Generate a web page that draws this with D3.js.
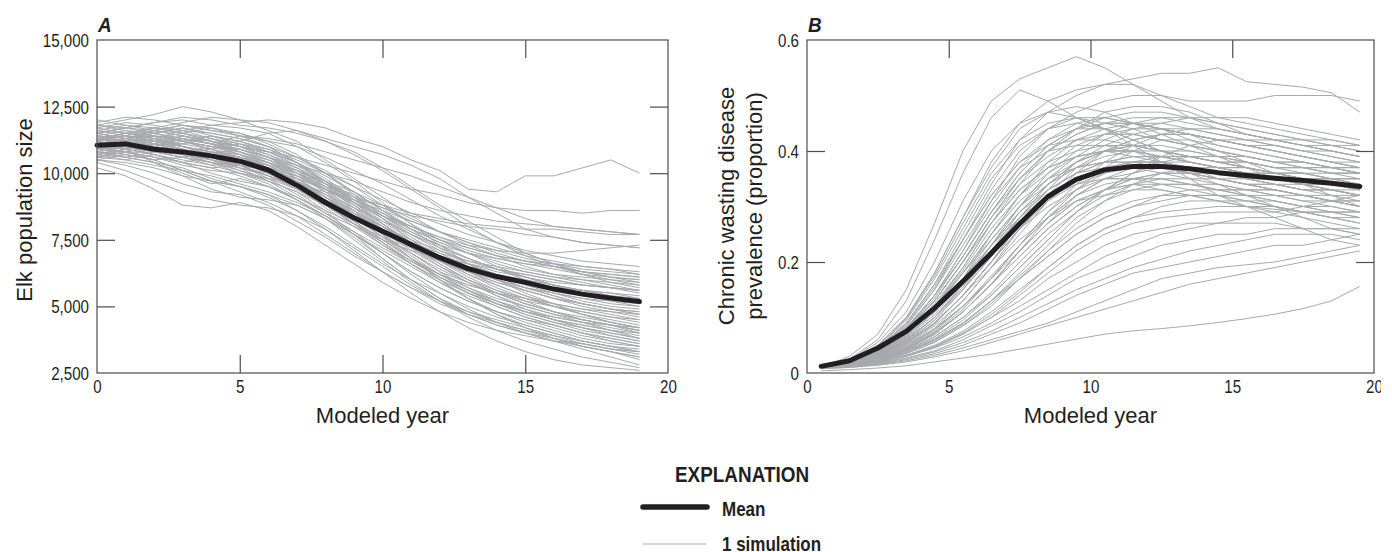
<!DOCTYPE html>
<html><head><meta charset="utf-8">
<script src="https://cdn.jsdelivr.net/npm/d3@7/dist/d3.min.js"></script>
<style>
body{margin:0;background:#fff;}
svg{display:block;}
.tick-lbl{font-family:"Liberation Sans",Arial,sans-serif;font-size:18px;fill:#231f20;}
.title{font-family:"Liberation Sans",Arial,sans-serif;font-size:22px;fill:#231f20;}
.panel{font-family:"Liberation Sans",Arial,sans-serif;font-size:21px;font-weight:bold;font-style:italic;fill:#231f20;}
.leg{font-family:"Liberation Sans",Arial,sans-serif;font-weight:bold;fill:#231f20;}
</style></head>
<body>
<script>
// ---------- DATA ----------
const elkYears = d3.range(0, 20);           // modeled years 0..19
const cwdYears = d3.range(0.5, 20, 1);      // modeled years 0.5..19.5
const elkXTicks = [0, 5, 10, 15, 20];
const elkYTicks = [2500, 5000, 7500, 10000, 12500, 15000];
const cwdXTicks = [0, 5, 10, 15, 20];
const cwdYTicks = [0, 0.2, 0.4, 0.6];
const cwdYTickLabels = ["0", "0.2", "0.4", "0.6"];

// Mean elk population size
const elkMean = [11050,11100,10900,10800,10650,10450,10120,9550,8900,8330,7820,7320,6830,6420,6120,5900,5650,5460,5310,5180];
// Simulated elk population size (hundreds of elk)
const elkSims = [
[112,114,113,116,115,113,110,104,96,88,80,72,66,60,55,51,48,45,43,41],
[108,110,107,104,106,103,99,95,88,83,76,70,63,59,54,50,47,44,41,38],
[115,117,119,121,120,118,117,115,112,108,102,95,88,82,76,70,66,62,59,57],
[110,108,105,101,97,95,91,86,80,73,66,60,55,50,46,43,40,37,35,33],
[113,112,116,118,117,114,112,110,106,101,96,90,84,79,74,70,66,63,61,59],
[105,103,100,96,93,92,88,82,76,69,63,57,52,48,45,42,39,36,34,32],
[118,120,122,125,123,120,116,112,105,98,91,84,78,73,69,65,62,60,58,56],
[111,113,115,112,110,112,115,116,113,110,107,103,98,91,85,79,76,74,73,72],
[107,106,104,100,96,98,95,90,84,77,70,63,57,52,48,45,43,40,37,35],
[113,115,117,116,118,119,120,119,117,113,110,105,101,94,93,99,99,102,105,100],
[109,111,110,108,106,103,98,92,85,78,70,62,55,49,44,41,38,35,33,30],
[116,118,117,119,121,120,119,116,112,107,101,94,87,80,74,69,65,62,60,58],
[104,101,97,93,90,88,87,84,79,72,65,58,52,47,44,41,39,37,35,34],
[112,110,109,111,113,111,107,102,95,87,79,72,67,63,61,59,57,56,55,53],
[110,112,114,110,107,109,106,101,96,91,88,85,83,81,80,79,79,78,77,77],
[106,109,112,109,105,101,97,93,86,77,68,60,53,48,44,40,37,34,31,28],
[115,113,111,114,112,110,108,106,103,100,97,94,92,89,87,86,86,85,86,86],
[111,110,108,106,108,106,102,95,87,80,73,67,62,58,55,53,51,49,48,47],
[120,118,116,115,117,115,111,106,100,93,86,80,75,71,68,66,64,62,61,60],
[108,107,109,107,104,100,96,90,83,75,67,59,52,46,41,37,34,31,29,27],
[113,114,112,109,106,102,97,91,85,80,75,71,68,66,63,61,59,58,57,55],
[110,113,116,118,116,114,110,104,97,89,81,73,66,60,55,51,48,45,43,40],
[102,99,94,88,87,89,86,80,73,66,59,53,48,44,41,39,37,36,34,33],
[114,116,115,113,111,114,113,111,108,105,102,99,95,91,87,83,80,79,78,77],
[109,108,106,103,101,100,98,96,93,90,86,82,78,75,72,69,67,65,64,62],
[117,119,118,116,113,110,106,100,93,85,77,69,62,56,51,47,44,42,40,38],
[107,109,111,108,110,107,103,97,90,82,75,68,62,58,55,52,50,48,46,44],
[112,110,113,115,112,108,104,99,94,89,84,80,76,73,71,70,70,71,72,73],
[111,109,104,99,94,91,90,88,83,76,68,60,53,47,43,40,37,35,33,31],
[115,117,119,120,118,117,115,110,104,97,89,81,73,66,60,55,51,47,44,42],
[106,108,106,104,102,103,101,97,91,85,79,74,70,67,65,63,61,60,59,58],
[113,111,114,112,110,109,106,101,94,86,77,68,60,53,47,42,38,35,33,31],
[110,112,110,107,104,102,100,97,92,87,82,77,73,70,68,66,65,63,62,61],
[119,121,120,118,116,115,112,107,100,92,84,77,71,66,62,58,55,52,50,49],
[108,106,104,102,98,95,92,86,79,71,63,55,48,42,37,33,30,28,27,26],
[114,112,110,108,109,111,109,104,97,89,81,74,69,64,60,57,54,51,49,47],
[111,113,114,113,111,108,104,98,91,84,78,73,69,65,62,60,58,56,54,52],
[109,111,113,111,114,112,108,103,97,90,83,76,70,65,60,56,53,50,48,46],
[116,114,112,110,107,106,104,100,95,88,81,74,68,63,59,56,53,51,49,48],
[105,107,105,101,97,93,89,84,77,70,63,57,51,47,43,40,38,36,34,33],
[112,114,117,115,113,110,106,103,100,97,93,89,86,84,82,81,80,79,78,77],
[110,108,110,112,109,105,101,96,91,86,80,74,68,63,58,54,50,47,44,42],
[113,115,113,110,108,106,103,97,89,81,73,66,60,55,51,48,46,44,43,42],
[107,105,107,104,100,97,95,91,86,81,76,72,69,66,64,62,60,58,57,56],
[115,113,115,117,115,113,110,106,101,95,88,81,75,70,65,61,58,55,53,51],
[111,112,110,108,105,103,101,98,94,89,84,79,75,72,69,67,66,65,64,63],
[118,116,114,112,110,108,104,98,91,84,77,70,64,59,55,51,48,46,44,42],
[109,110,112,114,111,108,105,101,96,90,84,78,73,68,64,60,57,54,52,50],
[112,109,107,105,103,104,102,99,95,91,87,84,82,80,79,77,76,74,73,72],
[106,108,110,113,111,107,102,96,89,82,74,66,59,53,48,44,41,38,36,35],
[110,111,113,110,108,105,100,94,88,81,74,67,61,56,52,49,46,44,42,40],
[114,112,110,113,111,109,106,102,97,91,85,79,74,70,67,64,62,61,60,59],
[108,110,108,106,103,100,97,93,88,82,75,68,61,55,50,46,43,40,38,36],
[112,115,114,112,114,112,109,105,100,95,90,85,81,77,74,71,69,67,66,65],
[116,115,117,115,112,110,108,104,98,91,83,75,68,62,57,53,50,47,45,43],
[109,107,105,106,104,101,98,94,88,81,74,67,61,56,52,48,45,43,41,39],
[113,114,112,110,107,104,100,95,90,84,78,72,67,63,60,57,55,53,51,50],
[111,113,115,117,114,111,108,104,99,93,86,79,72,66,61,57,54,51,49,47],
[107,109,107,104,102,99,95,90,84,77,70,63,57,52,48,45,42,39,37,35],
[115,117,116,114,112,110,107,103,97,91,85,79,74,70,66,63,61,59,57,56],
[110,109,111,109,106,104,102,99,94,88,81,74,68,63,59,56,53,51,49,48],
[112,110,108,107,105,102,99,95,90,84,77,70,63,57,52,48,45,42,40,38],
[118,117,115,113,111,109,106,102,96,89,82,75,69,64,60,57,55,53,52,51],
[106,105,103,101,99,96,93,89,84,78,72,66,60,55,51,48,45,43,41,40],
[113,111,109,108,106,105,103,100,96,92,87,82,78,74,71,68,66,64,63,62],
[109,112,114,112,109,106,102,97,91,84,76,68,60,53,47,43,40,37,35,33],
[111,110,112,110,108,107,104,100,95,89,83,77,72,68,64,61,58,56,54,53],
[114,113,111,109,107,104,100,95,89,82,75,68,62,57,53,50,47,45,43,41],
[108,106,108,106,104,103,101,98,94,90,85,80,76,72,69,67,65,63,62,61],
[112,114,116,114,112,109,105,100,94,88,81,74,67,61,56,52,48,45,43,41],
[110,112,110,107,105,103,99,94,88,81,74,67,61,56,51,47,44,41,39,37],
[117,115,113,112,110,108,105,101,96,90,84,78,73,68,64,61,58,56,55,54],
[105,104,102,99,97,95,92,88,83,77,71,65,59,54,50,46,43,40,38,36],
[111,109,111,113,111,108,104,99,93,87,80,73,67,62,58,54,51,49,47,45],
[113,112,110,108,106,104,101,97,92,86,79,72,65,59,54,49,45,42,39,37],
[109,111,112,111,109,107,104,101,97,93,88,83,78,74,70,67,65,63,61,60],
[115,113,112,110,108,106,103,98,92,85,78,71,65,60,56,53,50,48,46,45],
[107,109,110,108,106,103,99,95,90,85,80,75,71,67,64,62,60,58,57,56]
];

// Mean CWD prevalence
const cwdMean = [0.012,0.022,0.045,0.075,0.117,0.165,0.216,0.269,0.318,0.349,0.366,0.372,0.372,0.368,0.361,0.356,0.351,0.347,0.342,0.336];
// Simulated CWD prevalence (percent)
const cwdSims = [
[0.4,0.6,0.9,1.3,2.0,2.7,3.4,4.3,5.2,6.1,7.0,7.6,8.0,8.5,9.1,9.8,10.6,11.6,13.0,15.6],
[1,3,7,15,27,40,49,53,55,57,55,52,49,46,44,43,42,41,40,39],
[1,2.5,6,13,24,36,46,51,49,46,44,42,40,39,38,37,36,35,34,33],
[1,2,5,10,18,28,38,45,49,51,52,52,50,48,46,45,44,43,42,41],
[1,2,4.5,9,16,25,34,42,47,50,52,53,54,54,55,52.5,52,51.5,50.5,47],
[1,2,4,8,14,22,31,39,44,47,49,50,50,49,49,49,50,50,50,49],
[1,2,4,8,14,21,29,36,41,44,46,47,47,46,45,44,43,42,41,40],
[1,1.8,3.5,7,12,19,27,34,40,44,47,48,48,47,45,43,42,41,40,39],
[1,2,4,8,13,20,28,35,40,43,45,46,46,45,44,43,42,42,41,41],
[1,1.8,3.5,6.5,11,17,25,32,38,42,44,45,45,44,43,42,41,40,39,38],
[1,2,4.5,9,16,24,32,38,42,44,44,43,42,41,40,39,38,37,36,36],
[1,1.7,3,6,10,16,23,30,36,40,43,45,46,46,45,44,43,42,42,41],
[1,1.8,3.5,7,12,18,25,32,37,41,43,44,44,43,42,41,40,39,38,37],
[1,1.6,3,5.5,9,14,20,27,33,38,41,43,44,44,43,42,41,40,39,38],
[1,2,4,7.5,13,20,27,33,37,39,40,40,39,38,37,36,35,34,33,32],
[1,1.6,2.8,5,8.5,13,19,25,31,36,40,42,43,43,42,41,40,39,38,37],
[1,1.8,3.3,6,10,15,21,27,32,35,37,38,38,37,36,35,34,33,33,32],
[1,1.5,2.6,4.5,7.5,12,17,23,29,34,38,41,43,44,44,43,42,41,40,39],
[1,2,3.8,7,12,18,24,30,34,37,38,38,37,36,35,34,33,32,31,30],
[1,1.5,2.5,4.2,7,11,16,22,27,32,35,37,38,38,37,36,36,35,35,34],
[1,1.7,3,5.5,9,14,20,26,31,34,36,37,37,36,36,35,35,34,34,33],
[1,1.4,2.3,4,6.5,10,14,19,24,29,33,36,38,39,39,39,38,38,37,37],
[1,1.8,3.5,6.5,11,17,23,28,32,34,35,35,34,33,32,31,30,29,28,27],
[1,1.5,2.6,4.6,8,12,17,22,27,31,33,34,34,34,33,33,32,32,31,31],
[1,1.3,2.1,3.5,5.5,8.5,12,17,22,27,31,34,36,37,37,37,36,36,36,35],
[1,1.6,3,5.5,9,14,19,24,28,31,32,33,33,32,31,30,30,29,29,28],
[1,1.4,2.2,3.8,6,9,13,17,21,25,28,30,31,32,32,32,32,31,31,30],
[1,1.3,2,3.2,5,7.5,11,15,19,23,26,28,30,31,31,31,31,30,30,29],
[1,1.2,1.9,3,4.5,6.5,9,12,15,18,21,23,25,26,27,28,28,29,29,29],
[1,1.3,2,3.2,4.8,7,10,13,17,20,23,25,26,27,27,27,27,26,26,26],
[1,1.2,1.8,2.7,4,6,8.5,11,14,17,19,21,23,24,25,25,26,26,26,25],
[1,1.1,1.6,2.4,3.5,5,7,9,11.5,14,16,18,19,20,21,22,23,23,24,25],
[1,1.2,1.7,2.6,3.8,5.5,7.5,10,12.5,15,17,19,20.5,22,23,24,25,25,25,24],
[0.8,1,1.4,2,2.9,4,5.5,7,8.5,10,11.5,13,14.5,16,17,18,19,20,21,22],
[0.8,1,1.5,2.2,3.2,4.5,6,7.5,9,11,13,15,17,18,19,19.5,20,21,22,23],
[1,2.2,5,10,18,28,37,44,47,48,47,45,43,41,39,37,35,34,32,30],
[1,2,4.2,8.5,15,23,31,37,40,41,41,40,38,36,34,32,30,28,26,25],
[1,2.3,5.5,11,20,31,40,45,47,46,44,41,38,35,32,30,28,26,24,23],
[1,1.9,4,8,14,22,30,37,42,45,46,45,44,42,40,38,36,35,34,33],
[1,1.7,3.2,6,10,16,23,30,35,39,42,44,45,46,46,46,45,44,43,42],
[1,1.9,3.8,7.5,13,20,28,35,40,43,45,45,44,43,41,40,39,38,37,36],
[1,1.5,2.7,5,8,13,19,26,32,37,40,42,43,43,42,41,41,40,40,39],
[1,1.6,2.9,5.2,8.8,14,20,27,32,35,37,37,36,35,34,33,32,31,30,29],
[1,2.1,4.6,9.5,17,26,35,41,44,46,46,45,44,43,42,41,40,39,38,37],
[1,1.4,2.4,4.2,7,11,16,21,26,30,33,35,36,36,35,34,33,32,31,30],
[1,1.8,3.6,6.8,11.5,18,25,31,35,37,38,38,38,37,36,36,35,35,34,34],
[1,2,4.3,8.5,15,24,33,40,44,45,44,42,40,38,37,36,36,35,35,35],
[1,1.7,3.1,5.8,9.5,15,21,28,34,38,40,41,41,40,39,38,37,36,35,34],
[1,1.5,2.5,4.4,7.2,11,16,22,28,33,37,40,42,42,41,40,39,38,37,36],
[1,1.3,2.2,3.7,5.8,8.8,13,18,23,28,31,33,34,34,34,33,33,32,31,31],
[1,1.2,1.9,3,4.6,7,10,14,18,22,25,27,28,28.5,29,29,29,30,31,32],
[1,1.4,2.3,3.9,6.2,9.5,14,19,24,29,33,36,39,41,42,42,42,41,41,40],
[1,1.9,3.9,7.6,13,20,28,34,38,40,41,41,40,39,38,37,36,35,34,33],
[1,1.6,3,5.6,9.5,15,22,29,34,38,40,41,40,39,38,37,36,35,35,34],
[1,1.4,2.4,4.3,7,11,16,21,26,30,33,35,36,36,36,35,35,34,34,33],
[1,2.1,4.4,8.8,15.5,24,32,38,41,42,42,41,40,39,38,37,36,36,35,35],
[1,1.7,3.2,6,10,15.5,22,28,33,36,38,39,39,38,37,36,35,34,33,32],
[1,1.5,2.7,4.8,8,12,17,23,28,32,35,36,37,36,35,35,34,34,33,33],
[1,1.8,3.5,6.6,11,17,24,30,35,38,40,40,39,38,37,36,35,34,33,32],
[1,1.3,2.1,3.5,5.6,8.5,12.5,17,21,25,28,30,32,33,33,33,33,32,32,32],
[1,2,4.2,8.2,14,21,29,35,39,42,43,43,42,41,40,39,38,37,37,36],
[1,1.6,2.9,5.3,9,14,20,26,31,35,37,38,38,37,36,35,34,33,32,31],
[1,1.5,2.6,4.6,7.8,12,17.5,23,28,32,34,35,35,34,33,32,31,30,29,28],
[1,1.8,3.6,7,12,18.5,26,32,36,39,40,40,39,38,37,37,36,36,35,35],
[1,1.2,1.9,3.1,4.8,7.2,10.5,14.5,19,23,26,28,29,29.5,30,30,29.5,29,28,28],
[1,1.7,3.3,6.2,10.5,16.5,23,29,34,37,39,40,40,40,39,38,37,37,36,36],
[1,1.9,3.8,7.3,12.5,19,27,33,37,39,40,39,38,37,35,34,33,32,31,30],
[1,1.4,2.3,4,6.6,10,14.5,20,25,29,32,34,35,35,35,34,34,33,33,32],
[1,2.2,4.8,9.8,17.5,27,36,42,45,46,45,44,42,41,40,39,38,38,37,37],
[1,1.6,3,5.4,9,14,20,26,30,33,35,35,35,34,33,32,31,30,29,29],
[1,1.3,2.2,3.7,6,9,13,17.5,22,26,29,31,32,32,32,31,30,29,28,27],
[1,1.8,3.4,6.4,11,17,23,29,33,36,37,37,37,36,35,34,34,33,33,32],
[1,1.5,2.5,4.4,7.3,11.5,17,23,29,33,36,38,39,39,38,38,37,37,36,36],
[1,2,4.1,8,13.5,21,29,36,41,44,45,45,44,43,42,41,40,39,38,38],
[1,1.4,2.4,4.2,7,11,16,22,27,31,33,34,33,32,31,30,29,28,27,26],
[1,1.7,3.1,5.9,10,15.5,22,28,33,36,38,39,39,39,38,38,37,37,37,36]
];

const legendTitle = "EXPLANATION";
const legendLabels = ["Mean", "1 simulation"];

// ---------- DRAW ----------
const W = 1392, H = 552;
const svg = d3.select("body").append("svg").attr("width", W).attr("height", H);
const INK = "#231f20", GREY = "#a7a9ac", AXIS = "#4d4d4f";
const TL = 18;        // inward tick length
const NARROW = 0.84;  // horizontal squeeze that imitates the condensed face

function condense(sel, s) {
  sel.each(function() {
    const t = d3.select(this);
    const x = +t.attr("x") || 0, y = +t.attr("y") || 0;
    t.attr("x", 0).attr("y", 0).attr("transform", `translate(${x},${y}) scale(${s},1)`);
  });
}

function panel(opts) {
  const {x0, x1, y0, y1, xDomain, yDomain, xTicks, yTicks, yFmt, sims, simScale, xs, mean, letter, clipRight} = opts;
  const x = d3.scaleLinear().domain(xDomain).range([x0, x1]);
  const y = d3.scaleLinear().domain(yDomain).range([y1, y0]);
  const g = svg.append("g");

  const line = d3.line().x((d, i) => x(xs[i])).y(d => y(d));
  g.append("g").selectAll("path").data(sims).join("path")
    .attr("d", s => line(s.map(v => v * simScale)))
    .attr("fill", "none").attr("stroke", GREY).attr("stroke-width", 1)
    .attr("stroke-linejoin", "round");
  g.append("path").attr("d", line(mean)).attr("fill", "none")
    .attr("stroke", INK).attr("stroke-width", 5).attr("stroke-linecap", "round").attr("stroke-linejoin", "round");

  g.append("rect").attr("x", x0).attr("y", y0).attr("width", x1 - x0).attr("height", y1 - y0)
    .attr("fill", "none").attr("stroke", AXIS).attr("stroke-width", 1.2);

  const inner = t => t > xDomain[0] && t < xDomain[1];
  const innerY = t => t > yDomain[0] && t < yDomain[1];
  const bottom = d3.axisBottom(x).tickValues(xTicks).tickSize(-TL).tickPadding(7).tickFormat(d3.format("d"));
  const gb = g.append("g").attr("transform", `translate(0,${y1})`).call(bottom);
  const top = d3.axisTop(x).tickValues(xTicks.filter(inner)).tickSize(-TL).tickFormat("");
  const gt = g.append("g").attr("transform", `translate(0,${y0})`).call(top);
  const left = d3.axisLeft(y).tickValues(yTicks).tickSize(-TL).tickPadding(8).tickFormat(yFmt);
  const gl = g.append("g").attr("transform", `translate(${x0},0)`).call(left);
  const right = d3.axisRight(y).tickValues(yTicks.filter(innerY)).tickSize(-TL).tickFormat("");
  const gr = g.append("g").attr("transform", `translate(${x1},0)`).call(right);
  [gb, gt, gl, gr].forEach(a => {
    a.attr("font-size", null).attr("font-family", null);
    a.select(".domain").remove();
    a.selectAll(".tick line").attr("stroke", AXIS).attr("stroke-width", 1.2);
    a.selectAll("text").attr("class", "tick-lbl").attr("fill", INK);
  });
  gb.selectAll(".tick").filter(d => !inner(d)).select("line").remove();
  gl.selectAll(".tick").filter(d => !innerY(d)).select("line").remove();
  gl.selectAll("text").attr("dy", "0.36em");
  gb.selectAll("text").attr("dy", "0.72em");
  condense(gl.selectAll("text"), NARROW);
  condense(gb.selectAll("text"), NARROW);
  if (clipRight) {
    svg.append("clipPath").attr("id", "clipB").append("rect").attr("x", 0).attr("y", 0).attr("width", clipRight).attr("height", H);
    gb.attr("clip-path", "url(#clipB)");
  }

  const pl = g.append("text").attr("class", "panel").attr("x", x0 + 1).attr("y", 32).text(letter);
  condense(pl, 0.9);
  g.append("text").attr("class", "title").attr("x", (x0 + x1) / 2).attr("y", 423)
    .attr("text-anchor", "middle").text("Modeled year");
  return g;
}

panel({x0: 97, x1: 668, y0: 40, y1: 373, xDomain: [0, 20], yDomain: [2500, 15000],
  xTicks: elkXTicks, yTicks: elkYTicks, yFmt: d3.format(","), sims: elkSims, simScale: 100,
  xs: elkYears, mean: elkMean, letter: "A"});
panel({x0: 807, x1: 1374, y0: 40, y1: 373, xDomain: [0, 20], yDomain: [0, 0.6],
  xTicks: cwdXTicks, yTicks: cwdYTicks, yFmt: (d, i) => cwdYTickLabels[i], sims: cwdSims, simScale: 0.01,
  xs: cwdYears, mean: cwdMean, letter: "B", clipRight: 1381});

// Y titles
svg.append("text").attr("class", "title").attr("transform", "translate(32,210) rotate(-90)")
  .attr("text-anchor", "middle").text("Elk population size");
svg.append("text").attr("class", "title").attr("transform", "translate(734,206) rotate(-90)")
  .attr("text-anchor", "middle").text("Chronic wasting disease");
svg.append("text").attr("class", "title").attr("transform", "translate(762,206) rotate(-90)")
  .attr("text-anchor", "middle").text("prevalence (proportion)");

// Legend
const lg = svg.append("g");
const et = lg.append("text").attr("class", "leg").attr("x", 742).attr("y", 482).attr("text-anchor", "middle")
  .attr("font-size", 22).text(legendTitle);
condense(et, 0.86);
lg.append("line").attr("x1", 643).attr("x2", 707).attr("y1", 507).attr("y2", 507)
  .attr("stroke", INK).attr("stroke-width", 5.5).attr("stroke-linecap", "round");
lg.append("line").attr("x1", 643).attr("x2", 706).attr("y1", 544).attr("y2", 544)
  .attr("stroke", GREY).attr("stroke-width", 1);
const items = lg.selectAll("text.item").data(legendLabels).join("text").attr("class", "leg item")
  .attr("x", 722).attr("y", (d, i) => 516 + i * 35).attr("font-size", 20).text(d => d);
condense(items, 0.85);
</script>
</body></html>
